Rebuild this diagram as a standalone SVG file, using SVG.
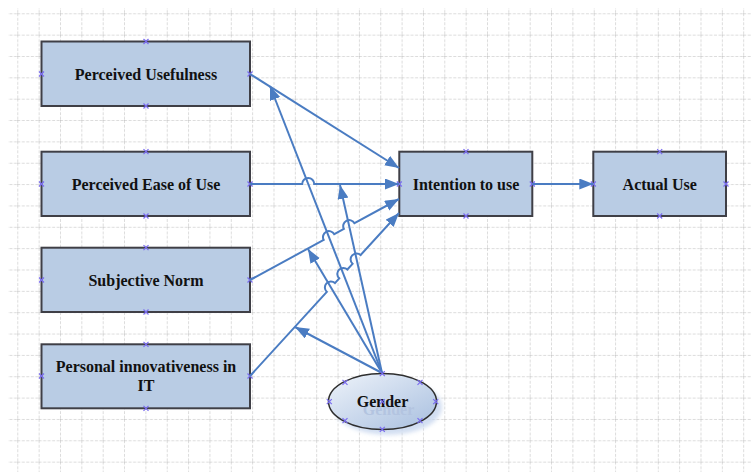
<svg xmlns="http://www.w3.org/2000/svg" width="751" height="472" viewBox="0 0 751 472">
<style>
.box{fill:#b9cce4;stroke:#3f3f46;stroke-width:2}
.lbl{font-family:"Liberation Serif","Times New Roman",serif;font-weight:bold;font-size:16px;fill:#111;text-anchor:middle}
.cn{fill:none;stroke:#4a7cc2;stroke-width:2;marker-end:url(#ah)}
.x{stroke:#7a6cf0;stroke-width:1.2;fill:none}
.grid{stroke:#b8b8b8;stroke-width:1;stroke-dasharray:3 1.5}
</style>
<defs>
<marker id="ah" markerUnits="userSpaceOnUse" markerWidth="15" markerHeight="12" refX="14" refY="5.5" orient="auto">
<path d="M0,0 L14,5.5 L0,11 z" fill="#4a7cc2"/>
</marker>
<pattern id="gp" patternUnits="userSpaceOnUse" x="17.3" y="13.3" width="21.35" height="21.35">
<line class="grid" x1="0" y1="0" x2="21.35" y2="0"/>
<line class="grid" x1="0" y1="0" x2="0" y2="21.35"/>
</pattern>
<linearGradient id="gg" x1="0" y1="0" x2="1" y2="1">
<stop offset="0" stop-color="#eef3fa"/>
<stop offset="1" stop-color="#a8bfdf"/>
</linearGradient>
<filter id="bl" x="-20%" y="-20%" width="140%" height="140%"><feGaussianBlur stdDeviation="2"/></filter>
<path id="xm" d="M-2.5,-2.5 L2.5,2.5 M-2.5,2.5 L2.5,-2.5"/>
</defs>
<rect width="751" height="472" fill="#fff"/>
<rect x="8" y="8" width="743" height="464" fill="url(#gp)"/>

<g id="pu">
<rect class="box" x="41.5" y="41.5" width="208.5" height="64.5"/>
<text class="lbl" x="146" y="79.5">Perceived Usefulness</text>
<g class="x"><use href="#xm" x="146" y="41.5"/><use href="#xm" x="41.5" y="74"/><use href="#xm" x="250" y="74"/><use href="#xm" x="146" y="106"/></g>
</g>
<g id="peou">
<rect class="box" x="41.5" y="151.7" width="208.5" height="64.3"/>
<text class="lbl" x="146" y="189.5">Perceived Ease of Use</text>
<g class="x"><use href="#xm" x="146" y="151.7"/><use href="#xm" x="41.5" y="184"/><use href="#xm" x="250" y="184"/><use href="#xm" x="146" y="216"/></g>
</g>
<g id="sn">
<rect class="box" x="41.5" y="247.7" width="208.5" height="64.3"/>
<text class="lbl" x="146" y="285.5">Subjective Norm</text>
<g class="x"><use href="#xm" x="146" y="247.7"/><use href="#xm" x="41.5" y="280"/><use href="#xm" x="250" y="280"/><use href="#xm" x="146" y="312"/></g>
</g>
<g id="piit">
<rect class="box" x="41.5" y="344.3" width="208.5" height="64"/>
<text class="lbl" x="146" y="371.5">Personal innovativeness in</text>
<text class="lbl" x="146" y="390.5">IT</text>
<g class="x"><use href="#xm" x="146" y="344.3"/><use href="#xm" x="41.5" y="376"/><use href="#xm" x="250" y="376"/><use href="#xm" x="146" y="408.3"/></g>
</g>
<g id="itu">
<rect class="box" x="399.3" y="151.7" width="133" height="64.3"/>
<text class="lbl" x="466" y="189.5">Intention to use</text>
<g class="x"><use href="#xm" x="466" y="151.7"/><use href="#xm" x="399.3" y="184"/><use href="#xm" x="532.3" y="184"/><use href="#xm" x="466" y="216"/></g>
</g>
<g id="au">
<rect class="box" x="593.3" y="151.7" width="132.7" height="64.3"/>
<text class="lbl" x="659.7" y="189.5">Actual Use</text>
<g class="x"><use href="#xm" x="659.7" y="151.7"/><use href="#xm" x="593.3" y="184"/><use href="#xm" x="726" y="184"/><use href="#xm" x="659.7" y="216"/></g>
</g>

<g id="connectors">
<path class="cn" d="M250,74 L399,168"/>
<path class="cn" d="M250,184 H302.2 A6,6 0 0 1 314.2,184 H399"/>
<path class="cn" d="M250,280 L323.73,239.97 A6,6 0 0 1 334.27,234.23 L343.93,228.97 A6,6 0 0 1 354.47,223.23 L399,199"/>
<path class="cn" d="M250,376 L326.85,291.93 A6,6 0 0 1 334.95,283.07 L339.25,278.33 A6,6 0 0 1 347.35,269.47 L352.55,263.83 A6,6 0 0 1 360.65,254.97 L399,213"/>
<path class="cn" d="M532.3,184 H593.3"/>
<path class="cn" d="M382,373 L270,86"/>
<path class="cn" d="M382,373 L340,185"/>
<path class="cn" d="M382,373 L308,249"/>
<path class="cn" d="M382,373 L295,327"/>
</g>

<g id="gender">
<ellipse cx="388" cy="407" rx="54" ry="28" fill="#c6d6ee" filter="url(#bl)" opacity="0.8"/>
<ellipse cx="382.5" cy="401.5" rx="54" ry="28" fill="url(#gg)" stroke="#2e2e2e" stroke-width="1.5"/>
<text class="lbl" x="388.5" y="415" style="fill:#b3c4e0">Gender</text>
<text class="lbl" x="382.5" y="407">Gender</text>
<g class="x"><use href="#xm" x="382.3" y="373.7"/><use href="#xm" x="345" y="382.3"/><use href="#xm" x="420" y="382.3"/><use href="#xm" x="329.3" y="401.7"/><use href="#xm" x="382.3" y="401.7"/><use href="#xm" x="435.7" y="401.7"/><use href="#xm" x="345" y="420.7"/><use href="#xm" x="420" y="420.7"/><use href="#xm" x="382.3" y="429.3"/></g>
</g>
</svg>
